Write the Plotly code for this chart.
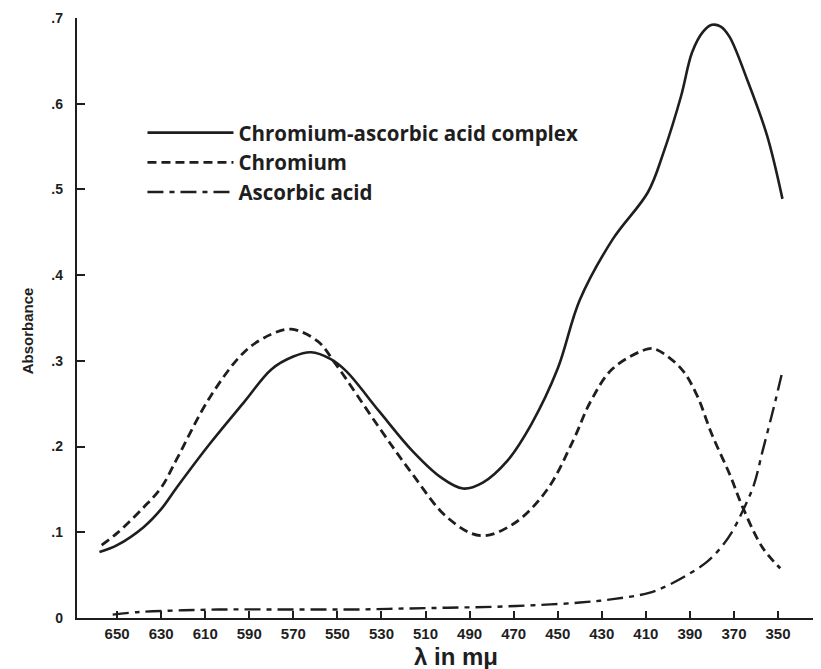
import plotly.graph_objects as go

# ---- data (wavelength in mμ, absorbance) ----
complex_nm = [658, 650, 638, 630, 623, 608, 592, 580, 570, 562, 553, 546, 531, 516, 503, 493,
              484, 473, 462, 450, 440, 425, 409, 402, 394, 389, 384, 380, 376, 372, 364, 355, 348]
complex_abs = [0.077, 0.085, 0.106, 0.127, 0.152, 0.203, 0.253, 0.290, 0.305, 0.310, 0.302,
               0.288, 0.241, 0.195, 0.164, 0.151, 0.158, 0.183, 0.226, 0.291, 0.371, 0.442,
               0.497, 0.543, 0.609, 0.660, 0.684, 0.692, 0.690, 0.678, 0.628, 0.563, 0.489]

chromium_nm = [657, 650, 638, 630, 623, 608, 592, 580, 571, 559, 551, 531, 516, 500, 485, 470,
               455, 443, 435, 425, 409, 405, 394, 387, 380, 372, 366, 357, 349]
chromium_abs = [0.085, 0.099, 0.129, 0.152, 0.185, 0.257, 0.311, 0.331, 0.337, 0.323, 0.297,
                0.222, 0.168, 0.117, 0.096, 0.110, 0.149, 0.207, 0.253, 0.291, 0.314, 0.313,
                0.291, 0.261, 0.214, 0.168, 0.129, 0.082, 0.058]

ascorbic_nm = [652, 640, 620, 600, 580, 560, 540, 520, 500, 480, 460, 440, 425, 409, 400,
               390, 382, 376, 371, 366, 361, 357, 352, 348]
ascorbic_abs = [0.004, 0.007, 0.009, 0.010, 0.010, 0.010, 0.010, 0.011, 0.012, 0.013, 0.015,
                0.018, 0.022, 0.029, 0.038, 0.052, 0.066, 0.082, 0.100, 0.125, 0.155, 0.195,
                0.245, 0.288]

x_ticks = [650, 630, 610, 590, 570, 550, 530, 510, 490, 470, 450, 430, 410, 390, 370, 350]
y_tickvals = [0, 0.1, 0.2, 0.3, 0.4, 0.5, 0.6, 0.7]
y_ticktext = ["0", ".1", ".2", ".3", ".4", ".5", ".6", ".7"]

names = ["Chromium-ascorbic acid complex", "Chromium", "Ascorbic acid"]

INK = "#1e1e1e"
FONT = "Liberation Sans"

fig = go.Figure()
fig.add_trace(go.Scatter(x=complex_nm, y=complex_abs, mode="lines", name=names[0],
                         line=dict(color=INK, width=2.6, shape="spline", smoothing=1.0)))
fig.add_trace(go.Scatter(x=chromium_nm, y=chromium_abs, mode="lines", name=names[1],
                         line=dict(color=INK, width=2.8, dash="9px,5px", shape="spline",
                                   smoothing=1.0)))
fig.add_trace(go.Scatter(x=ascorbic_nm, y=ascorbic_abs, mode="lines", name=names[2],
                         line=dict(color=INK, width=2.4, dash="16px,6px,5px,6px",
                                   shape="spline", smoothing=1.0)))

# page body has an 8px margin, so the figure is sized/offset to compensate
fig.update_layout(
    width=813, height=661,
    margin=dict(l=69, r=0, t=10, b=51),
    paper_bgcolor="white", plot_bgcolor="white",
    font=dict(family=FONT, color=INK),
    showlegend=True,
    legend=dict(x=0.088, y=0.842, xanchor="left", yanchor="top",
                bgcolor="rgba(0,0,0,0)", borderwidth=0,
                font=dict(size=20.5, family="Open Sans", color=INK, weight="bold"),
                itemwidth=86, tracegroupgap=0),
    xaxis=dict(range=[668.2, 330.5], tickvals=x_ticks, ticks="inside", ticklen=7,
               tickwidth=1.6, tickcolor=INK, showline=True, linewidth=2.4, linecolor=INK,
               showgrid=False, zeroline=False, ticklabelstandoff=1,
               tickfont=dict(size=15, family=FONT, color=INK, weight="bold")),
    yaxis=dict(range=[0, 0.7], tickvals=y_tickvals, ticktext=y_ticktext, ticks="inside",
               ticklen=8, tickwidth=1.6, tickcolor=INK, showline=True, linewidth=2.4,
               linecolor=INK, showgrid=False, zeroline=False, ticklabelstandoff=9,
               tickfont=dict(size=14, family=FONT, color=INK, weight="bold")),
    annotations=[
        dict(text="Absorbance", xref="paper", yref="paper", x=-0.067, y=0.478,
             xanchor="center", yanchor="middle", textangle=-90, showarrow=False,
             font=dict(size=15, family=FONT, color=INK, weight="bold")),
        dict(text="λ in mμ", xref="paper", yref="paper", x=0.51, y=-0.064,
             xanchor="center", yanchor="middle", showarrow=False,
             font=dict(size=24, family=FONT, color=INK, weight="bold")),
    ],
)

fig.write_html("out.html")
